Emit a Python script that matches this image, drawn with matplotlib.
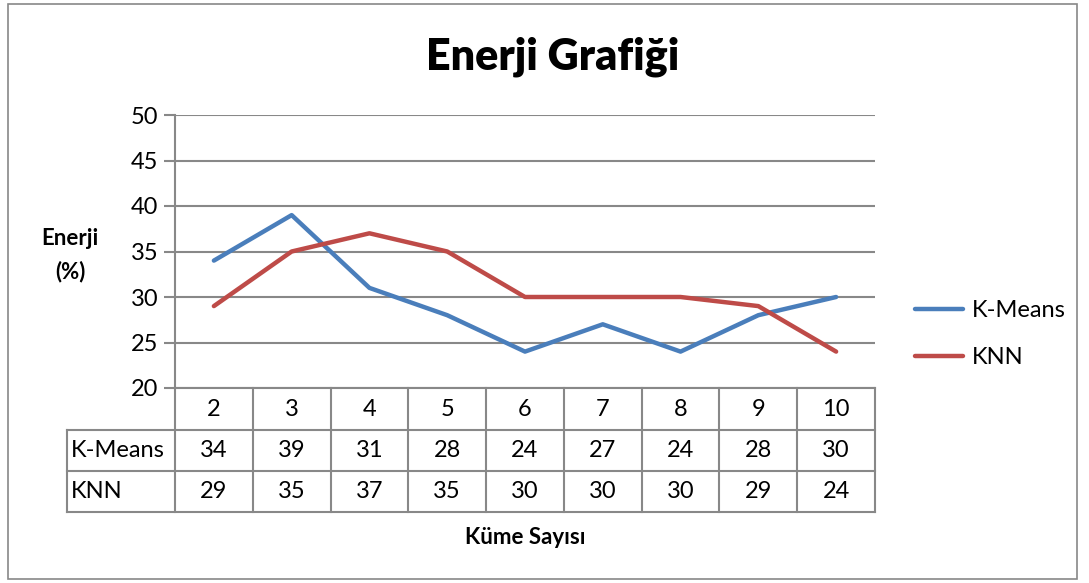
import matplotlib
matplotlib.use("Agg")
import matplotlib.pyplot as plt
import matplotlib.transforms as mtransforms
from matplotlib.lines import Line2D
from matplotlib.patches import Rectangle

categories = ["2", "3", "4", "5", "6", "7", "8", "9", "10"]
kmeans = [34, 39, 31, 28, 24, 27, 24, 28, 30]
knn = [29, 35, 37, 35, 30, 30, 30, 29, 24]
series_names = ["K-Means", "KNN"]
yticks = [20, 25, 30, 35, 40, 45, 50]
title = "Enerji Grafiği"
ylabel = "Enerji\n(%)"
xlabel = "Küme Sayısı"

plt.rcParams['font.family'] = ['Lato', 'DejaVu Sans']

W, H = 1089, 583
fig = plt.figure(figsize=(W / 100, H / 100), dpi=100)

# outer border
fig.patches.append(Rectangle((8 / W, 4 / H), (1077 - 8) / W, (579 - 4) / H,
                             transform=fig.transFigure, fill=False,
                             edgecolor="#888888", linewidth=1.2))

px_left, px_right, px_top, px_bot = 175, 875, 115, 388
ax = fig.add_axes([px_left / W, (H - px_bot) / H, (px_right - px_left) / W, (px_bot - px_top) / H])

n = len(categories)
x = list(range(n))
blue = "#4A7EBB"
red = "#BE4B48"
grid_c = "#888888"

ax.plot(x, kmeans, color=blue, linewidth=3.2, solid_capstyle="round", solid_joinstyle="round",
        label=series_names[0], zorder=3)
ax.plot(x, knn, color=red, linewidth=3.2, solid_capstyle="round", solid_joinstyle="round",
        label=series_names[1], zorder=3)

ax.set_xlim(-0.5, n - 0.5)
ax.set_ylim(20, 50)
ax.set_yticks(yticks)
ax.set_yticklabels([str(v) for v in yticks], fontsize=17)
ax.set_xticks([])
for s in ["top", "right", "bottom"]:
    ax.spines[s].set_visible(False)
ax.spines["left"].set_color(grid_c)
ax.spines["left"].set_linewidth(1.5)
ax.tick_params(axis="y", length=8, width=1.5, color=grid_c, pad=4)
for v in yticks:
    ax.axhline(v, color=grid_c, linewidth=1.5, zorder=1)

# data table
trans = mtransforms.blended_transform_factory(ax.transData, ax.transAxes)
hpx = px_bot - px_top
def yf(ypx):
    return (px_bot - ypx) / hpx
row_edges = [388, 430, 471, 512]
label_left = -0.5 - (px_left - 67) / ((px_right - px_left) / n)
lw = 1.5
ax.add_line(Line2D([-0.5, n - 0.5], [yf(388)] * 2, transform=trans, color=grid_c, lw=lw, clip_on=False))
for r in row_edges[1:]:
    ax.add_line(Line2D([label_left, n - 0.5], [yf(r)] * 2, transform=trans, color=grid_c, lw=lw, clip_on=False))
for i in range(n + 1):
    ax.add_line(Line2D([i - 0.5] * 2, [yf(388), yf(512)], transform=trans, color=grid_c, lw=lw, clip_on=False))
ax.add_line(Line2D([label_left] * 2, [yf(430), yf(512)], transform=trans, color=grid_c, lw=lw, clip_on=False))

def rowc(r):
    return yf((row_edges[r] + row_edges[r + 1]) / 2)

for i, c in enumerate(categories):
    ax.text(i, rowc(0), c, transform=trans, ha="center", va="center", fontsize=17)
    ax.text(i, rowc(1), str(kmeans[i]), transform=trans, ha="center", va="center", fontsize=17)
    ax.text(i, rowc(2), str(knn[i]), transform=trans, ha="center", va="center", fontsize=17)
ax.text(label_left + 0.05, rowc(1), series_names[0], transform=trans, ha="left", va="center", fontsize=17)
ax.text(label_left + 0.05, rowc(2), series_names[1], transform=trans, ha="left", va="center", fontsize=17)

# titles
fig.text(553 / W, 1 - 57 / H, title, ha="center", va="center", fontsize=31, fontweight="heavy")
fig.text(70 / W, 1 - 255 / H, ylabel, ha="center", va="center", fontsize=16, fontweight="bold", linespacing=1.65)
fig.text(525 / W, 1 - 537 / H, xlabel, ha="center", va="center", fontsize=16, fontweight="bold")

# legend
leg = ax.legend(loc="center left", bbox_to_anchor=(906 / W, 1 - 334 / H), bbox_transform=fig.transFigure,
                frameon=False, fontsize=17, handlelength=2.0, handletextpad=0.4, labelspacing=1.1,
                borderaxespad=0)

fig.savefig("out.png", dpi=100)
